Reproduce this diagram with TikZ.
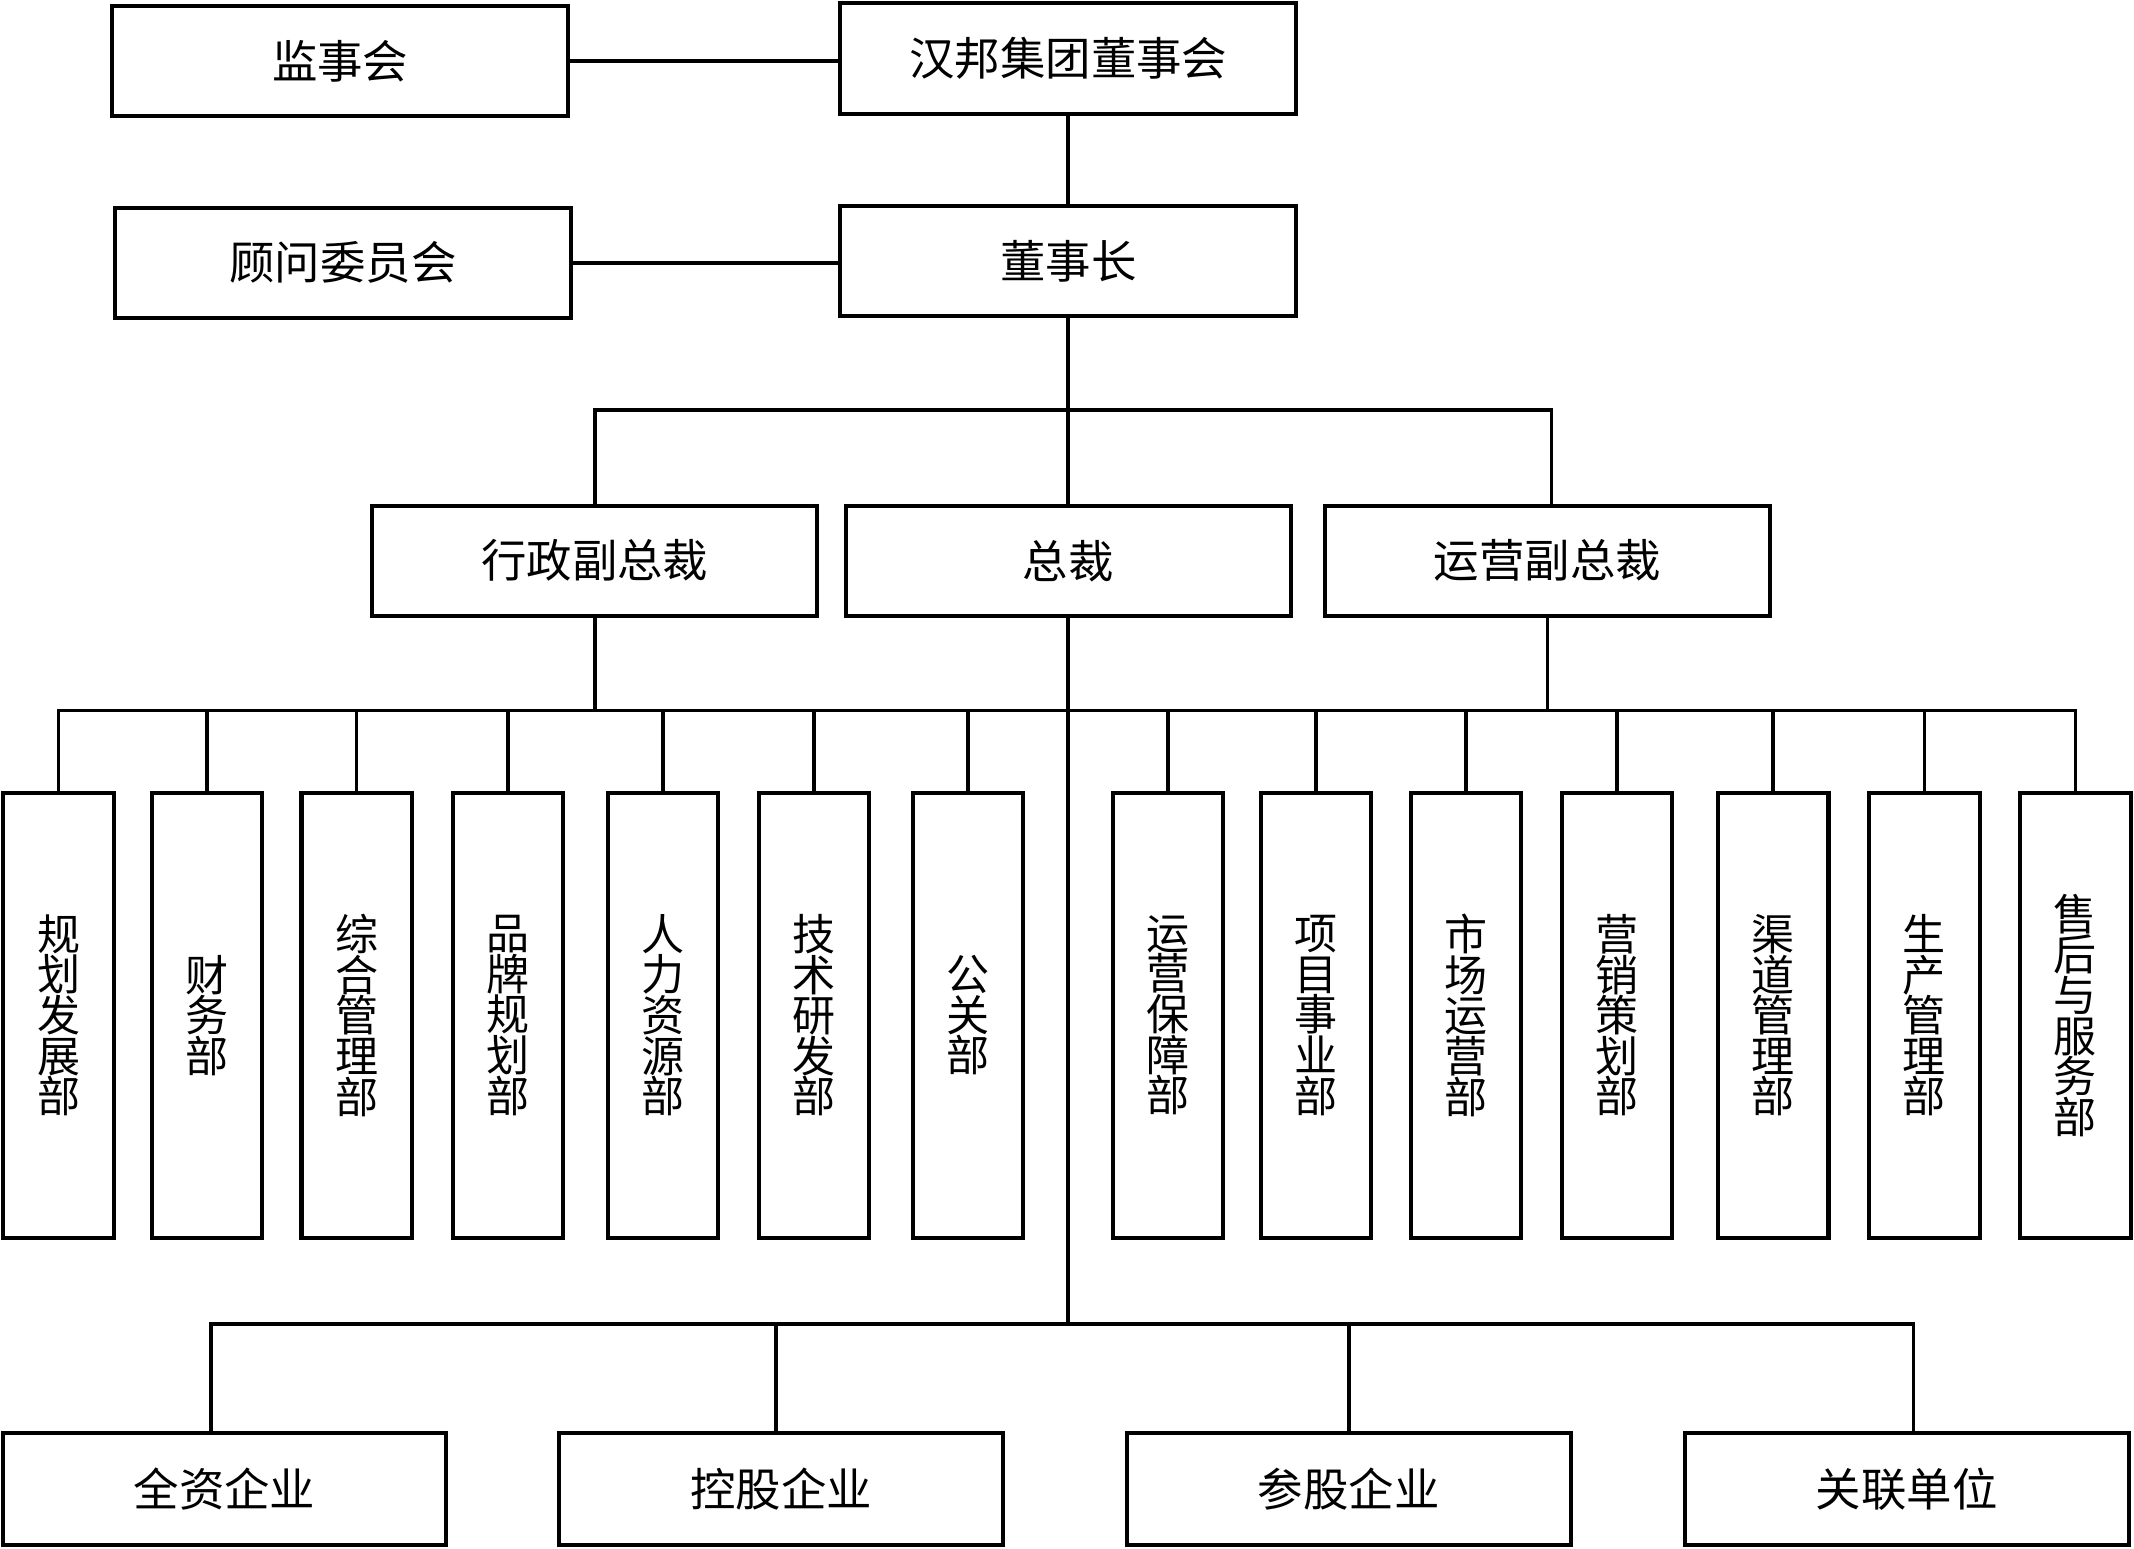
\documentclass[tikz,border=0pt]{standalone}
\usepackage{fontspec}
\newfontfamily\cjk{Noto Sans CJK SC}
\usepackage{tikz}

\begin{document}
\begin{tikzpicture}[x=0.02cm,y=-0.02cm]
\tikzstyle{every node}+=[inner sep=0pt]
\tikzstyle{box}=[draw, line width=1.7pt, fill=white, font=\cjk\fontsize{19}{22}\selectfont]
\tikzstyle{hbox}=[box, minimum width=6.6cm, minimum height=1.62cm]
\tikzstyle{vbox}=[box, minimum width=1.62cm, minimum height=6.54cm, align=center, font=\cjk\fontsize{18}{17}\selectfont]
\tikzstyle{wire}=[line width=1.6pt]
\useasboundingbox (0,0) rectangle (1568,1138);
\node [hbox, minimum width=6.7cm] (jsh) at (250,45) {监事会};
\node [hbox, minimum width=6.7cm] (dsh) at (785,43) {汉邦集团董事会};
\node [hbox, minimum width=6.7cm] (gw) at (252,193) {顾问委员会};
\node [hbox, minimum width=6.7cm] (dsz) at (785,192) {董事长};
\node [hbox, minimum width=6.54cm] (xz) at (437,412) {行政副总裁};
\node [hbox, minimum width=6.54cm] (zc) at (785,412) {总裁};
\node [hbox, minimum width=6.54cm] (yy) at (1137,412) {运营副总裁};
\node [vbox] (d1) at (43,746) {规\\划\\发\\展\\部};
\node [vbox] (d2) at (152,746) {财\\务\\部};
\node [vbox] (d3) at (262,746) {综\\合\\管\\理\\部};
\node [vbox] (d4) at (373,746) {品\\牌\\规\\划\\部};
\node [vbox] (d5) at (487,746) {人\\力\\资\\源\\部};
\node [vbox] (d6) at (598,746) {技\\术\\研\\发\\部};
\node [vbox] (d7) at (711,746) {公\\关\\部};
\node [vbox] (d8) at (858,746) {运\\营\\保\\障\\部};
\node [vbox] (d9) at (967,746) {项\\目\\事\\业\\部};
\node [vbox] (d10) at (1077,746) {市\\场\\运\\营\\部};
\node [vbox] (d11) at (1188,746) {营\\销\\策\\划\\部};
\node [vbox] (d12) at (1303,746) {渠\\道\\管\\理\\部};
\node [vbox] (d13) at (1414,746) {生\\产\\管\\理\\部};
\node [vbox] (d14) at (1525,746) {售\\后\\与\\服\\务\\部};
\node [hbox, minimum width=6.52cm, minimum height=1.64cm] (c1) at (165,1094) {全资企业};
\node [hbox, minimum width=6.52cm, minimum height=1.64cm] (c2) at (574,1094) {控股企业};
\node [hbox, minimum width=6.52cm, minimum height=1.64cm] (c3) at (991,1094) {参股企业};
\node [hbox, minimum width=6.52cm, minimum height=1.64cm] (c4) at (1401,1094) {关联单位};
\coordinate (bus1) at (785,301);
\coordinate (bus2) at (785,522);
\coordinate (bus3) at (785,973);
\draw [wire] (jsh.east) -- (jsh.east -| dsh.west);
\draw [wire] (gw.east) -- (gw.east -| dsz.west);
\draw [wire] (dsh.south) -- (dsz.north);
\draw [wire] (dsz.south) -- (zc.north);
\draw [wire] (xz.north) |- (bus1) -| ([xshift=0.06cm]yy.north);
\draw [wire] (xz.south) -- (xz.south |- bus2);
\draw [wire] (yy.south) -- (yy.south |- bus2);
\draw [wire] (d1.north) |- (bus2) -| (d14.north);
\foreach \i in {2,...,13}
  \draw [wire] (d\i.north) -- (d\i.north |- bus2);
\draw [wire] (zc.south) -- (bus3);
\draw [wire] ([xshift=-0.2cm]c1.north) |- (bus3) -| ([xshift=0.1cm]c4.north);
\draw [wire] ([xshift=-0.08cm]c2.north) -- ([xshift=-0.08cm]c2.north |- bus3);
\draw [wire] (c3.north) -- (c3.north |- bus3);
\end{tikzpicture}
\end{document}
